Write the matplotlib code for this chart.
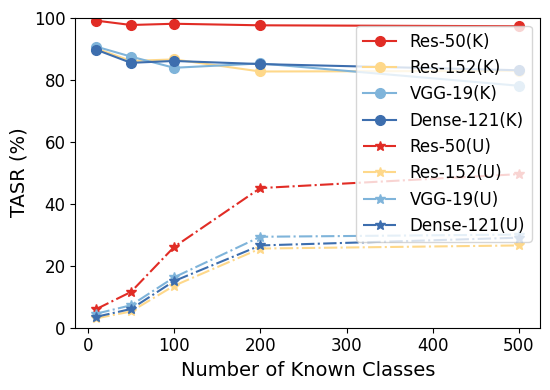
import numpy as np
import matplotlib.pyplot as plt

# number of known classes
classes = [10, 50, 100, 200, 500]

# TASR on known classes
res50_k = [99.0, 97.6, 98.0, 97.5, 97.2]
res152_k = [90.0, 86.0, 86.5, 82.6, 82.8]
vgg19_k = [90.6, 87.4, 83.8, 85.2, 78.0]
dense121_k = [89.6, 85.4, 86.0, 85.0, 83.0]

# TASR on unknown classes
res50_u = [6.0, 11.5, 26.0, 45.0, 49.5]
res152_u = [3.0, 5.2, 13.5, 25.5, 26.5]
vgg19_u = [4.5, 7.2, 16.2, 29.3, 30.0]
dense121_u = [3.5, 6.0, 15.0, 26.5, 29.0]

names = ['Res-50', 'Res-152', 'VGG-19', 'Dense-121']
colors = ['#e12c25', '#fed88a', '#7fb4da', '#3d6eae']

fig, ax = plt.subplots(figsize=(5.5, 3.9), dpi=100)

for name, vals, c in zip(names, [res50_k, res152_k, vgg19_k, dense121_k], colors):
    ax.plot(classes, vals, '-o', color=c, markersize=7, linewidth=1.5, label=name + '(K)')
for name, vals, c in zip(names, [res50_u, res152_u, vgg19_u, dense121_u], colors):
    ax.plot(classes, vals, '-.*', color=c, markersize=7, linewidth=1.5, label=name + '(U)')

ax.set_ylim(0, 100)
ax.set_xticks([0, 100, 200, 300, 400, 500])
ax.set_yticks([0, 20, 40, 60, 80, 100])
ax.tick_params(labelsize=12)
ax.set_xlabel('Number of Known Classes', fontsize=14)
ax.set_ylabel('TASR (%)', fontsize=14)
ax.legend(loc='upper right', fontsize=12, handlelength=2)

fig.subplots_adjust(left=0.137, right=0.982, top=0.955, bottom=0.16)
fig.savefig('out.png')
